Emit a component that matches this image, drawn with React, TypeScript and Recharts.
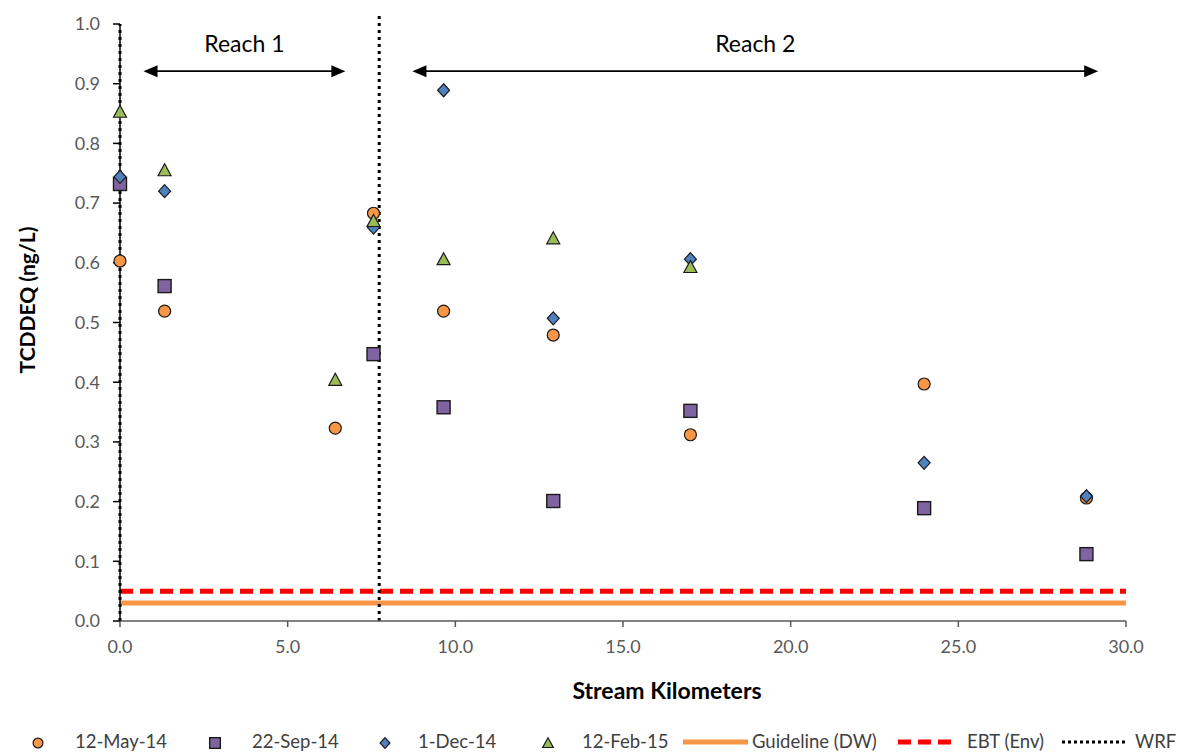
import React from 'react';
import { ScatterChart, Scatter, XAxis, YAxis, ReferenceLine, Label } from 'recharts';

// ---- data ----
const mayKm = [0, 1.33, 6.42, 7.56, 9.65, 12.92, 17.01, 23.98, 28.82];
const mayVal = [0.603, 0.519, 0.323, 0.683, 0.519, 0.479, 0.312, 0.397, 0.206];

const sepKm = [0, 1.33, 7.56, 9.65, 12.92, 17.01, 23.98, 28.82];
const sepVal = [0.732, 0.561, 0.447, 0.358, 0.201, 0.352, 0.189, 0.112];

const decKm = [0, 1.33, 7.56, 9.65, 12.92, 17.01, 23.98, 28.82];
const decVal = [0.744, 0.72, 0.659, 0.889, 0.507, 0.606, 0.265, 0.209];

const febKm = [0, 1.33, 6.42, 7.56, 9.65, 12.92, 17.01];
const febVal = [0.853, 0.755, 0.404, 0.67, 0.606, 0.641, 0.593];

const xTicks = [0, 5, 10, 15, 20, 25, 30];
const yTicks = [0, 0.1, 0.2, 0.3, 0.4, 0.5, 0.6, 0.7, 0.8, 0.9, 1.0];

const guidelineDW = 0.03;
const ebtEnv = 0.05;
const wrfKm = [0, 7.73];
const wrfTop = [1.0, 1.02];

const reachLabels = ['Reach 1', 'Reach 2'];
const reachFrom = [0.7, 8.72];
const reachTo = [6.72, 29.17];
const reachY = 0.921;

const legendLabels = ['12-May-14', '22-Sep-14', '1-Dec-14', '12-Feb-15', 'Guideline (DW)', 'EBT (Env)', 'WRF'];

// ---- styles ----
const FONT = "Lato, 'Liberation Sans', sans-serif";
const ORANGE = '#F79646';
const PURPLE = '#8064A2';
const BLUE = '#4F81BD';
const GREEN = '#9BBB59';
const RED = '#FF0000';
const EDGE = '#1a1a1a';

const toPoints = (xs: number[], ys: number[]) => xs.map((x, i) => ({ x, y: ys[i] }));

const CircleShape = (p: any) => {
  const k = p.k ?? 1;
  return <circle cx={p.cx} cy={p.cy} r={6 * k} fill={ORANGE} stroke={EDGE} strokeWidth={1.2} />;
};
const SquareShape = (p: any) => {
  const k = p.k ?? 1;
  const h = 6.5 * k;
  return <rect x={p.cx - h} y={p.cy - h} width={2 * h} height={2 * h} fill={PURPLE} stroke={EDGE} strokeWidth={1.4} />;
};
const DiamondShape = (p: any) => {
  const k = p.k ?? 1;
  return (
    <polygon
      points={`${p.cx},${p.cy - 6.5 * k} ${p.cx + 6 * k},${p.cy} ${p.cx},${p.cy + 6.5 * k} ${p.cx - 6 * k},${p.cy}`}
      fill={BLUE}
      stroke={EDGE}
      strokeWidth={1.2}
    />
  );
};
const TriangleShape = (p: any) => {
  const k = p.k ?? 1;
  return (
    <polygon
      points={`${p.cx},${p.cy - 6.5 * k} ${p.cx + 6.5 * k},${p.cy + 5.5 * k} ${p.cx - 6.5 * k},${p.cy + 5.5 * k}`}
      fill={GREEN}
      stroke={EDGE}
      strokeWidth={1.2}
    />
  );
};

const ArrowShape = (p: any) => {
  const { x1, y1, x2 } = p;
  const h = 14;
  const w = 6;
  return (
    <g>
      <line x1={x1 + h - 2} y1={y1} x2={x2 - h + 2} y2={y1} stroke="#000" strokeWidth={1.6} />
      <polygon points={`${x1},${y1} ${x1 + h},${y1 - w} ${x1 + h},${y1 + w}`} fill="#000" />
      <polygon points={`${x2},${y1} ${x2 - h},${y1 - w} ${x2 - h},${y1 + w}`} fill="#000" />
    </g>
  );
};

const legendMarker = (i: number) => {
  const s = { cx: 10, cy: 10, k: 0.82 };
  if (i === 0) return <CircleShape {...s} />;
  if (i === 1) return <SquareShape {...s} />;
  if (i === 2) return <DiamondShape {...s} />;
  return <TriangleShape {...s} />;
};

const markerX = [38, 215, 385, 548];
const markerTextX = [75, 252, 418, 582];
const lineX1 = [683, 898, 1062];
const lineX2 = [748, 958, 1128];
const lineTextX = [752, 967, 1135];

const Legend2 = () => (
  <div style={{ position: 'absolute', left: 0, top: 731, width: 1180, height: 20, fontFamily: FONT, fontSize: 18.5, color: '#404040' }}>
    {markerX.map((mx, i) => (
      <React.Fragment key={'m' + i}>
        <svg width={20} height={20} style={{ position: 'absolute', left: mx - 10, top: 2 }}>
          {legendMarker(i)}
        </svg>
        <span style={{ position: 'absolute', left: markerTextX[i], top: 0, lineHeight: '20px', whiteSpace: 'nowrap' }}>
          {legendLabels[i]}
        </span>
      </React.Fragment>
    ))}
    {lineX1.map((lx, i) => (
      <React.Fragment key={'l' + i}>
        <svg width={lineX2[i] - lx} height={20} style={{ position: 'absolute', left: lx, top: 1 }}>
          {i === 0 && <line x1={0} y1={10} x2={lineX2[i] - lx} y2={10} stroke={ORANGE} strokeWidth={5} />}
          {i === 1 && <line x1={0} y1={10} x2={lineX2[i] - lx} y2={10} stroke={RED} strokeWidth={5} strokeDasharray="13 7" />}
          {i === 2 && <line x1={0} y1={10} x2={lineX2[i] - lx} y2={10} stroke="#000" strokeWidth={3} strokeDasharray="3 3" />}
        </svg>
        <span style={{ position: 'absolute', left: lineTextX[i], top: 0, lineHeight: '20px', whiteSpace: 'nowrap' }}>
          {legendLabels[4 + i]}
        </span>
      </React.Fragment>
    ))}
  </div>
);

export default function App() {
  const tickStyle = { fontFamily: FONT, fontSize: 18, fill: '#595959' };
  return (
    <div style={{ position: 'absolute', left: 0, top: 0, width: 1180, height: 753, background: '#fff', overflow: 'hidden' }}>
      <ScatterChart width={1180} height={753} margin={{ top: 24, right: 54, left: 0, bottom: 92 }}>
        <XAxis
          type="number"
          dataKey="x"
          domain={[0, 30]}
          ticks={xTicks}
          tickFormatter={(v: number) => v.toFixed(1)}
          tick={tickStyle}
          tickSize={6}
          tickMargin={13}
          height={40}
          axisLine={{ stroke: '#595959', strokeWidth: 1.5 }}
          tickLine={{ stroke: '#595959', strokeWidth: 1.5 }}
          interval={0}
        >
          <Label
            value="Stream Kilometers"
            position="bottom"
            offset={22}
            dx={44}
            style={{ fontFamily: FONT, fontSize: 23, fontWeight: 700, fill: '#000' }}
          />
        </XAxis>
        <YAxis
          type="number"
          dataKey="y"
          domain={[0, 1]}
          ticks={yTicks}
          tickFormatter={(v: number) => v.toFixed(1)}
          tick={tickStyle}
          tickSize={7}
          tickMargin={13}
          width={120}
          axisLine={{ stroke: '#000', strokeWidth: 1.5 }}
          tickLine={{ stroke: '#000', strokeWidth: 1.5 }}
          interval={0}
        >
          <Label
            content={() => (
              <text
                x={26}
                y={300}
                transform="rotate(-90 26 300)"
                textAnchor="middle"
                dominantBaseline="central"
                style={{ fontFamily: FONT, fontSize: 21, fontWeight: 700, fill: '#000' }}
              >
                TCDDEQ (ng/L)
              </text>
            )}
          />
        </YAxis>

        <ReferenceLine y={guidelineDW} stroke={ORANGE} strokeWidth={5} />
        <ReferenceLine y={ebtEnv} stroke={RED} strokeWidth={5} strokeDasharray="13 7" />
        {wrfKm.map((k, i) => (
          <ReferenceLine
            key={'wrf' + i}
            segment={[{ x: k, y: 0 }, { x: k, y: wrfTop[i] }]}
            stroke="#000"
            strokeWidth={3}
            strokeDasharray="3 4"
            ifOverflow="visible"
          />
        ))}
        {reachLabels.map((lab, i) => (
          <ReferenceLine
            key={'reach' + i}
            segment={[{ x: reachFrom[i], y: reachY }, { x: reachTo[i], y: reachY }]}
            shape={ArrowShape}
            ifOverflow="visible"
            label={{ value: lab, position: 'top', offset: 19, style: { fontFamily: FONT, fontSize: 23, fill: '#000' } }}
          />
        ))}

        <Scatter name="12-May-14" data={toPoints(mayKm, mayVal)} shape={CircleShape} isAnimationActive={false} />
        <Scatter name="22-Sep-14" data={toPoints(sepKm, sepVal)} shape={SquareShape} isAnimationActive={false} />
        <Scatter name="1-Dec-14" data={toPoints(decKm, decVal)} shape={DiamondShape} isAnimationActive={false} />
        <Scatter name="12-Feb-15" data={toPoints(febKm, febVal)} shape={TriangleShape} isAnimationActive={false} />
      </ScatterChart>
      <Legend2 />
    </div>
  );
}
